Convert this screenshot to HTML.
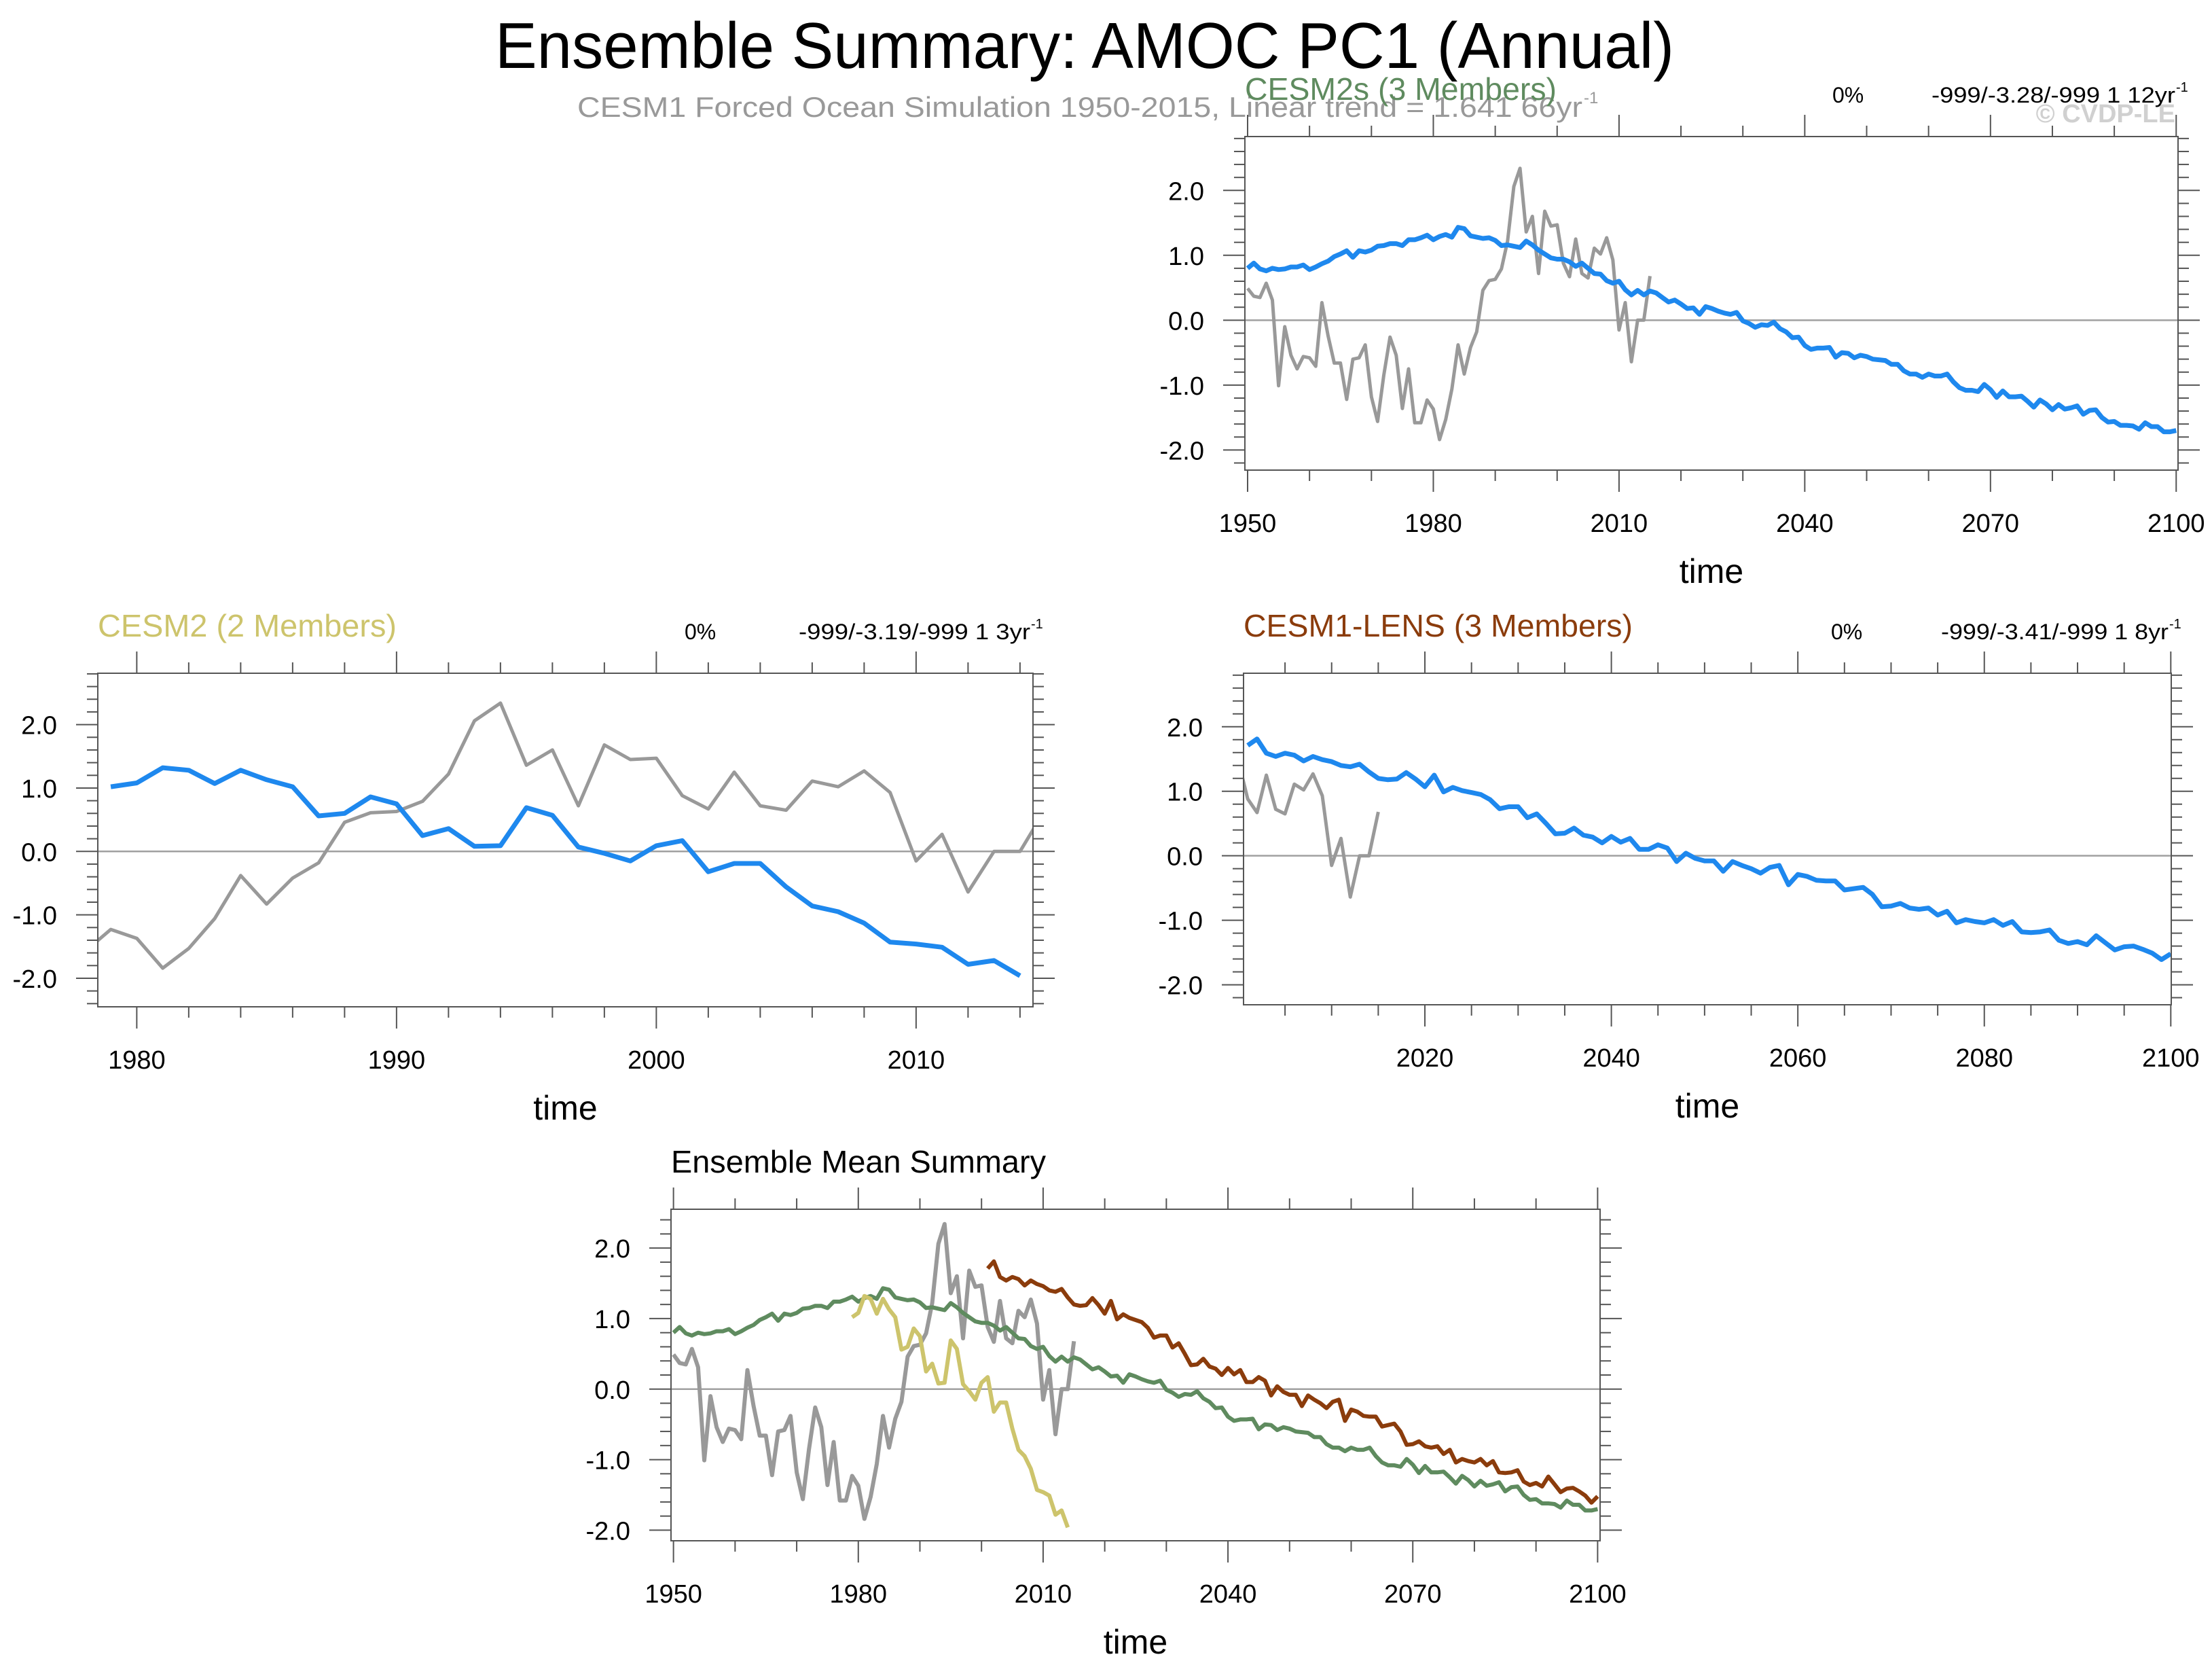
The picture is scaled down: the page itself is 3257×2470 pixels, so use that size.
<!DOCTYPE html>
<html><head><meta charset="utf-8"><style>
html,body{margin:0;padding:0;background:#fff;}
svg{display:block;font-family:"Liberation Sans",Arial,sans-serif;}
</style></head><body>
<svg id="fig" width="3257" height="2470" viewBox="0 0 3257 2470" xmlns="http://www.w3.org/2000/svg">
<text x="1597" y="100" font-size="96" text-anchor="middle" textLength="1736" lengthAdjust="spacingAndGlyphs">Ensemble Summary: AMOC PC1 (Annual)</text>
<text x="850" y="172" font-size="42" fill="#999" textLength="1480" lengthAdjust="spacingAndGlyphs">CESM1 Forced Ocean Simulation 1950-2015, Linear trend = 1.641 66yr</text>
<text x="2332" y="152" font-size="24" fill="#999">-1</text>
<text x="3203" y="180" font-size="38" font-weight="bold" fill="#d0d0d0" text-anchor="end">© CVDP-LE</text>
<g id="panels"></g>
</svg>
<script>
// ---- data ----
const years_cesm2s = [];
for (let y = 1950; y <= 2100; y++) years_cesm2s.push(y);
const cesm2s_values = [0.80,0.88,0.79,0.76,0.80,0.78,0.79,0.82,0.82,0.85,0.78,0.82,0.87,0.91,0.98,1.02,1.07,0.97,1.07,1.05,
1.08,1.14,1.15,1.18,1.18,1.15,1.24,1.24,1.27,1.31,1.24,1.29,1.32,1.28,1.43,1.41,1.30,1.28,1.26,1.27,
1.23,1.15,1.16,1.14,1.12,1.22,1.16,1.08,1.02,0.96,0.94,0.94,0.90,0.83,0.88,0.80,0.72,0.71,0.61,0.57,
0.60,0.47,0.39,0.46,0.39,0.45,0.42,0.35,0.28,0.31,0.25,0.18,0.19,0.09,0.21,0.18,0.14,0.11,0.09,0.12,
-0.01,-0.05,-0.11,-0.07,-0.08,-0.03,-0.13,-0.18,-0.27,-0.26,-0.39,-0.45,-0.43,-0.43,-0.42,-0.57,-0.50,-0.51,-0.58,-0.54,
-0.56,-0.60,-0.61,-0.62,-0.68,-0.68,-0.78,-0.83,-0.83,-0.88,-0.83,-0.86,-0.86,-0.83,-0.95,-1.04,-1.08,-1.08,-1.10,-0.99,
-1.07,-1.19,-1.09,-1.18,-1.18,-1.17,-1.25,-1.34,-1.23,-1.29,-1.38,-1.30,-1.37,-1.35,-1.32,-1.45,-1.39,-1.38,-1.50,-1.57,
-1.56,-1.62,-1.62,-1.63,-1.68,-1.58,-1.64,-1.64,-1.72,-1.72,-1.70];
const years_obs = [];
for (let y = 1950; y <= 2015; y++) years_obs.push(y);
const obs_values = [0.49,0.37,0.35,0.57,0.31,-1.01,-0.10,-0.54,-0.75,-0.56,-0.58,-0.71,0.27,-0.24,-0.66,-0.66,-1.22,-0.60,-0.58,-0.38,
-1.18,-1.56,-0.85,-0.26,-0.54,-1.36,-0.75,-1.58,-1.58,-1.23,-1.37,-1.84,-1.53,-1.06,-0.38,-0.83,-0.42,-0.18,0.46,0.61,
0.63,0.79,1.22,2.06,2.34,1.36,1.60,0.72,1.68,1.45,1.47,0.88,0.67,1.25,0.72,0.65,1.11,1.02,1.27,0.93,
-0.15,0.27,-0.64,0.00,0.00,0.68];
const years_cesm2 = [];
for (let y = 1979; y <= 2014; y++) years_cesm2.push(y);
const cesm2_values = [1.02,1.08,1.32,1.28,1.07,1.28,1.13,1.02,0.56,0.60,0.86,0.75,0.25,0.36,0.08,0.09,0.69,0.57,0.07,-0.03,
-0.15,0.09,0.17,-0.32,-0.19,-0.19,-0.56,-0.86,-0.95,-1.13,-1.43,-1.46,-1.51,-1.78,-1.72,-1.96];
const years_lens = [];
for (let y = 2001; y <= 2100; y++) years_lens.push(y);
const lens_values = [1.71,1.81,1.59,1.54,1.59,1.56,1.47,1.54,1.49,1.46,1.40,1.38,1.42,1.30,1.20,1.18,1.19,1.29,1.19,1.07,
1.25,0.99,1.06,1.01,0.98,0.95,0.87,0.73,0.76,0.76,0.59,0.65,0.50,0.34,0.35,0.43,0.32,0.29,0.20,0.30,
0.21,0.27,0.10,0.10,0.17,0.12,-0.09,0.04,-0.04,-0.08,-0.08,-0.24,-0.09,-0.15,-0.20,-0.27,-0.18,-0.15,-0.45,-0.29,
-0.32,-0.38,-0.39,-0.39,-0.53,-0.51,-0.49,-0.60,-0.79,-0.78,-0.74,-0.81,-0.83,-0.81,-0.92,-0.86,-1.04,-0.99,-1.02,-1.04,
-0.99,-1.08,-1.02,-1.18,-1.19,-1.18,-1.15,-1.31,-1.36,-1.33,-1.38,-1.24,-1.35,-1.46,-1.41,-1.40,-1.45,-1.51,-1.61,-1.52];
const yTickLabels = ["-2.0","-1.0","0.0","1.0","2.0"];
const yTickValues = [-2,-1,0,1,2];

// ---- drawing ----
const NS = "http://www.w3.org/2000/svg";
const root = document.getElementById("panels");
function mk(tag, attrs, parent) {
  const e = document.createElementNS(NS, tag);
  for (const k in attrs) e.setAttribute(k, attrs[k]);
  parent.appendChild(e);
  return e;
}
const BLUE = "#1e88ee", GREY = "#999999", GREEN = "#5f8b5f", YELLOW = "#cdc46c", BROWN = "#8b3c0c";

function panel(cfg) {
  const g = mk("g", {}, root);
  
  
  const L = cfg.box[0], T = cfg.box[1], R = cfg.box[2], B = cfg.box[3];
  const sx = v => L + (v - cfg.xd[0]) / (cfg.xd[1] - cfg.xd[0]) * (R - L);
  const sy = v => T + (cfg.yd[1] - v) / (cfg.yd[1] - cfg.yd[0]) * (B - T);
  const cid = "clip-" + cfg.name;
  const cp = mk("clipPath", {id: cid}, g);
  mk("rect", {x: L, y: T, width: R - L, height: B - T}, cp);
  const z = mk("line", {x1: L, x2: R, y1: sy(0), y2: sy(0), stroke: "#a0a0a0", "stroke-width": 2.5}, g);
  
  
  const sg = mk("g", {"clip-path": "url(#" + cid + ")"}, g);
  cfg.series.forEach(s => {
    let d = "";
    s.x.forEach((xv, i) => { d += (i ? "L" : "M") + sx(xv).toFixed(1) + "," + sy(s.y[i]).toFixed(1); });
    const p = mk("path", {d: d, fill: "none", stroke: s.color, "stroke-width": s.w, "stroke-linejoin": "round"}, sg);
    
    
  });
  const bx = mk("rect", {x: L, y: T, width: R - L, height: B - T, fill: "none", stroke: "#555", "stroke-width": 2}, g);
  
  
  const tg = mk("g", {stroke: "#555", "stroke-width": 2}, g);
  
  
  const x0 = Math.ceil(cfg.xd[0] / cfg.minorX) * cfg.minorX;
  for (let v = x0; v <= cfg.xd[1] + 1e-6; v += cfg.minorX) {
    const major = Math.abs(v / cfg.majorX - Math.round(v / cfg.majorX)) < 1e-6;
    const len = major ? 32 : 16;
    const X = sx(v);
    mk("line", {x1: X, x2: X, y1: B, y2: B + len}, tg);
    mk("line", {x1: X, x2: X, y1: T, y2: T - len}, tg);
    if (major) {
      const t = mk("text", {x: X, y: B + 91, "font-size": 38, "text-anchor": "middle", stroke: "none", fill: "#000"}, g);
      t.textContent = String(v);
      
      
    }
  }
  const y0 = Math.ceil(cfg.yd[0] / 0.2 - 1e-6);
  for (let k = y0; k * 0.2 <= cfg.yd[1] + 1e-6; k++) {
    const v = k * 0.2;
    const major = k % 5 === 0;
    const len = major ? 32 : 16;
    const Y = sy(v);
    mk("line", {x1: L, x2: L - len, y1: Y, y2: Y}, tg);
    mk("line", {x1: R, x2: R + len, y1: Y, y2: Y}, tg);
  }
  yTickValues.forEach((v, i) => {
    const t = mk("text", {x: L - 60, y: sy(v) + 14, "font-size": 38, "text-anchor": "end"}, g);
    t.textContent = yTickLabels[i];
    
    
  });
  const xt = mk("text", {x: (L + R) / 2, y: B + 166, "font-size": 50, "text-anchor": "middle"}, g);
  xt.textContent = "time";
  
  
  const pt = mk("text", {x: L, y: T - 54, "font-size": 46, fill: cfg.titleColor, textLength: cfg.titleW, lengthAdjust: "spacingAndGlyphs"}, g);
  pt.textContent = cfg.title;
  
  
  if (cfg.stats) {
    const pc = mk("text", {x: cfg.pctX, y: T - 50, "font-size": 32}, g);
    pc.textContent = "0%";
    
    
    const st = mk("text", {x: R - 4, y: T - 50, "font-size": 32, "text-anchor": "end", textLength: cfg.statsW, lengthAdjust: "spacingAndGlyphs"}, g);
    st.textContent = cfg.stats;
    
    
    const sup = mk("text", {x: R - 3, y: T - 66, "font-size": 20}, g);
    sup.textContent = "-1";
    
    
  }
}

panel({name: "cesm2s-panel", box: [1833, 201, 3207, 692], xd: [1949.56, 2100.3], yd: [-2.31, 2.83],
  majorX: 30, minorX: 10, title: "CESM2s (3 Members)", titleW: 459, titleColor: GREEN, stats: "-999/-3.28/-999 1 12yr", statsW: 359, pctX: 2698,
  series: [{name: "obs-line", x: years_obs, y: obs_values, color: GREY, w: 5},
           {name: "cesm2s-mean-line", x: years_cesm2s, y: cesm2s_values, color: BLUE, w: 7}]});
panel({name: "cesm2-panel", box: [144, 991, 1521, 1482], xd: [1978.5, 2014.5], yd: [-2.45, 2.81],
  majorX: 10, minorX: 2, title: "CESM2 (2 Members)", titleW: 440, titleColor: YELLOW, stats: "-999/-3.19/-999 1 3yr", statsW: 341, pctX: 1008,
  series: [{name: "obs-line", x: years_obs, y: obs_values, color: GREY, w: 5},
           {name: "cesm2-mean-line", x: years_cesm2, y: cesm2_values, color: BLUE, w: 7}]});
panel({name: "cesm1-lens-panel", box: [1831, 991, 3197, 1479], xd: [2000.55, 2100.05], yd: [-2.31, 2.83],
  majorX: 20, minorX: 5, title: "CESM1-LENS (3 Members)", titleW: 573, titleColor: BROWN, stats: "-999/-3.41/-999 1 8yr", statsW: 335, pctX: 2696,
  series: [{name: "obs-line", x: years_obs, y: obs_values, color: GREY, w: 5},
           {name: "cesm1-lens-mean-line", x: years_lens, y: lens_values, color: BLUE, w: 7}]});
panel({name: "ensemble-mean-panel", box: [988, 1780, 2356, 2268], xd: [1949.6, 2100.4], yd: [-2.15, 2.55],
  majorX: 30, minorX: 10, title: "Ensemble Mean Summary", titleW: 552, titleColor: "#000", stats: null,
  series: [{name: "obs-line", x: years_obs, y: obs_values, color: GREY, w: 6},
           {name: "cesm2s-line", x: years_cesm2s, y: cesm2s_values, color: GREEN, w: 6},
           {name: "cesm2-line", x: years_cesm2, y: cesm2_values, color: YELLOW, w: 6},
           {name: "cesm1-lens-line", x: years_lens, y: lens_values, color: BROWN, w: 6}]});
</script>
</body></html>
